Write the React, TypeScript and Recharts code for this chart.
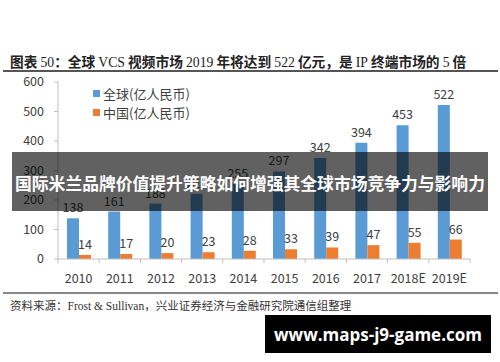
import React from "react";
import { BarChart, Bar, XAxis, YAxis, LabelList } from "recharts";

const years = ["2010", "2011", "2012", "2013", "2014", "2015", "2016", "2017", "2018E", "2019E"];
const globalVals = [138, 161, 188, 221, 255, 297, 342, 394, 453, 522];
const chinaVals = [14, 17, 20, 23, 28, 33, 39, 47, 55, 66];
const yTicks = [0, 100, 200, 300, 400, 500, 600];

const BLUE = "#5B9BD5";
const ORANGE = "#ED7D31";
const AXIS = "#BFBFBF";
const TEXT = "#404040";
const SANS = "'Noto Sans CJK SC', 'Noto Sans', sans-serif";
const SERIF = "'Liberation Serif', 'DejaVu Serif', serif";

const data = years.map((y, i) => ({ year: y, global: globalVals[i], china: chinaVals[i] }));

function YearTick(props: any) {
  const { x, y, payload, index } = props;
  const half = payload.offset || 0;
  const last = index === years.length - 1;
  return (
    <g>
      <line x1={x - half} x2={x - half} y1={y} y2={y + 4} stroke={AXIS} />
      {last && <line x1={x + half} x2={x + half} y1={y} y2={y + 4} stroke={AXIS} />}
      <text x={x} y={y + 23.5} textAnchor="middle" fontSize={12.5} fill={TEXT} fontFamily={SANS}>
        {payload.value}
      </text>
    </g>
  );
}

function LegendBox() {
  const items = [
    { label: "全球(亿人民币)", color: BLUE },
    { label: "中国(亿人民币)", color: ORANGE },
  ];
  return (
    <div style={{ position: "absolute", left: 93, top: 84, fontFamily: SANS, fontSize: 13, color: TEXT }}>
      {items.map((it) => (
        <div key={it.label} style={{ display: "flex", alignItems: "center", height: 19 }}>
          <span style={{ width: 7, height: 7, background: it.color, marginRight: 3 }} />
          {it.label}
        </div>
      ))}
    </div>
  );
}

const num = { fontFamily: SERIF, fontWeight: 400 };

export default function App() {
  return (
    <div style={{ position: "absolute", left: 0, top: 0, width: 500, height: 362, background: "#fff", overflow: "hidden" }}>
      <div
        style={{
          position: "absolute",
          left: 10,
          top: 51,
          fontSize: 13.7,
          fontWeight: 700,
          color: "#222",
          fontFamily: SANS,
          whiteSpace: "nowrap",
          lineHeight: "20px",
        }}
      >
        图表 <span style={num}>50</span>：全球 <span style={num}>VCS</span> 视频市场 <span style={num}>2019</span> 年将达到{" "}
        <span style={num}>522</span> 亿元，是 <span style={num}>IP</span> 终端市场的 <span style={num}>5</span> 倍
      </div>
      <div style={{ position: "absolute", left: 3, top: 70, width: 495, height: 2, background: "#555" }} />

      <BarChart
        width={500}
        height={362}
        data={data}
        margin={{ top: 82, right: 30, bottom: 63, left: 0 }}
        barSize={12}
        barGap={0}
      >
        <YAxis
          width={58}
          domain={[0, 600]}
          ticks={yTicks}
          tick={{ fontSize: 12.5, fill: TEXT, fontFamily: SANS }}
          tickSize={4}
          tickMargin={10}
          axisLine={{ stroke: AXIS }}
          tickLine={{ stroke: AXIS }}
        />
        <XAxis
          dataKey="year"
          tick={<YearTick />}
          tickLine={false}
          tickSize={0}
          tickMargin={0}
          axisLine={{ stroke: AXIS }}
          interval={0}
          height={40}
        />
        <Bar dataKey="global" fill={BLUE} isAnimationActive={false}>
          <LabelList dataKey="global" position="top" offset={6} fontSize={12.5} fill={TEXT} fontFamily={SANS} />
        </Bar>
        <Bar dataKey="china" fill={ORANGE} isAnimationActive={false}>
          <LabelList dataKey="china" position="top" offset={6} fontSize={12.5} fill={TEXT} fontFamily={SANS} />
        </Bar>
      </BarChart>

      <LegendBox />

      <div style={{ position: "absolute", left: 3, top: 292, width: 495, height: 1.5, background: "#888" }} />
      <div
        style={{
          position: "absolute",
          left: 10,
          top: 297,
          fontSize: 11.5,
          color: "#333",
          fontFamily: SANS,
          whiteSpace: "nowrap",
          lineHeight: "16px",
        }}
      >
        资料来源：<span style={{ fontFamily: SERIF }}>Frost &amp; Sullivan</span>，兴业证券经济与金融研究院通信组整理
      </div>

      <div
        style={{
          position: "absolute",
          left: 12,
          top: 152,
          width: 476,
          height: 59,
          background: "rgba(0,0,0,0.62)",
          color: "#fff",
          fontFamily: SANS,
          fontWeight: 700,
          fontSize: 16.8,
          display: "flex",
          alignItems: "center",
          justifyContent: "center",
          whiteSpace: "nowrap",
          paddingTop: 2,
          boxSizing: "border-box",
        }}
      >
        国际米兰品牌价值提升策略如何增强其全球市场竞争力与影响力
      </div>

      <div
        style={{
          position: "absolute",
          left: 265,
          top: 315,
          width: 226,
          height: 38,
          background: "#000",
          color: "#fff",
          fontFamily: "'Open Sans', 'DejaVu Sans', sans-serif",
          fontWeight: 700,
          fontSize: 17,
          display: "flex",
          alignItems: "center",
          justifyContent: "center",
        }}
      >
        www.maps-j9-game.com
      </div>
    </div>
  );
}
